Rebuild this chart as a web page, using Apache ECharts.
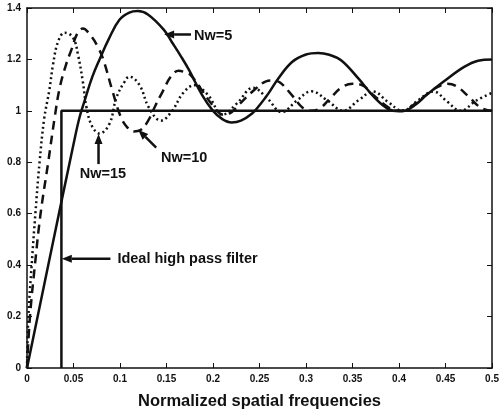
<!DOCTYPE html>
<html><head><meta charset="utf-8">
<script src="https://cdn.jsdelivr.net/npm/echarts@6/dist/echarts.min.js"></script>
<style>html,body{margin:0;padding:0;background:#fff}#c{width:502px;height:415px}</style>
</head><body><div id="c"></div>
<script>
// Normalized spatial frequency / response pairs
const nw5 = [[0,0],[0.028,0.49],[0.05,0.87],[0.0565,0.975],[0.062,1.04],[0.07,1.13],[0.078,1.2],[0.088,1.28],[0.0994,1.354],[0.11,1.382],[0.119,1.388],[0.13,1.375],[0.147,1.316],[0.156,1.266],[0.165,1.215],[0.174,1.16],[0.188,1.063],[0.2,1.0],[0.21,0.968],[0.22,0.955],[0.23,0.962],[0.242,0.99],[0.25,1.022],[0.26,1.07],[0.27,1.125],[0.285,1.19],[0.3,1.219],[0.313,1.225],[0.325,1.218],[0.338,1.196],[0.356,1.127],[0.374,1.05],[0.388,1.008],[0.4,0.998],[0.406,1.0],[0.418,1.025],[0.43,1.063],[0.448,1.114],[0.47,1.171],[0.485,1.195],[0.5,1.2]];
const nw10 = [[0,0],[0.0032,0.2],[0.0085,0.4],[0.0146,0.6],[0.0228,0.8],[0.03,0.98],[0.035,1.087],[0.042,1.18],[0.048,1.24],[0.054,1.30],[0.06,1.32],[0.069,1.29],[0.076,1.25],[0.082,1.2],[0.092,1.076],[0.101,0.975],[0.108,0.935],[0.115,0.92],[0.122,0.925],[0.13,0.96],[0.138,1.02],[0.146,1.076],[0.155,1.135],[0.163,1.156],[0.17,1.15],[0.176,1.139],[0.188,1.08],[0.2,1.02],[0.211,0.985],[0.22,0.995],[0.228,1.025],[0.244,1.08],[0.257,1.115],[0.263,1.118],[0.272,1.11],[0.285,1.06],[0.297,1.01],[0.306,1.0],[0.315,1.01],[0.325,1.045],[0.338,1.09],[0.35,1.105],[0.36,1.1],[0.373,1.06],[0.388,1.015],[0.4,1.0],[0.41,1.01],[0.425,1.05],[0.44,1.09],[0.452,1.105],[0.462,1.095],[0.475,1.055],[0.488,1.012],[0.5,1.0]];
const nw15 = [[0,0],[0.0015,0.2],[0.005,0.4],[0.009,0.6],[0.0135,0.8],[0.0185,0.97],[0.024,1.08],[0.028,1.18],[0.0335,1.27],[0.0406,1.304],[0.0495,1.285],[0.055,1.215],[0.06,1.114],[0.064,1.013],[0.07,0.94],[0.078,0.912],[0.0887,0.95],[0.096,1.05],[0.105,1.114],[0.11,1.133],[0.121,1.1],[0.131,1.013],[0.144,0.962],[0.156,1.0],[0.168,1.07],[0.18,1.1],[0.195,1.06],[0.21,0.985],[0.226,1.03],[0.243,1.09],[0.258,1.05],[0.274,0.995],[0.29,1.04],[0.306,1.076],[0.323,1.04],[0.34,1.0],[0.356,1.04],[0.372,1.075],[0.388,1.035],[0.404,1.0],[0.42,1.04],[0.437,1.075],[0.452,1.035],[0.466,1.0],[0.483,1.04],[0.5,1.07]];
const ideal = [[0.037,0],[0.037,1],[0.5,1]];
const labels = ['Nw=5','Nw=10','Nw=15','Ideal high pass filter'];
const xTitle = 'Normalized spatial frequencies';

const chart = echarts.init(document.getElementById('c'));
const C = '#111';
const axCommon = {
  axisLine:{show:true,onZero:false,lineStyle:{color:C,width:1.5}},
  axisTick:{show:true,inside:true,length:5,lineStyle:{color:C,width:1}},
  splitLine:{show:false}
};
const lbl = {color:C,fontFamily:'Liberation Sans, Arial',fontWeight:'bold',fontSize:10};
chart.setOption({
  animation:false,
  grid:{left:27,right:7,top:8,bottom:38},
  xAxis:[
    Object.assign({type:'value',min:0,max:0.5,interval:0.05,position:'bottom',
      axisLabel:Object.assign({margin:6},lbl),
      name:xTitle,nameLocation:'middle',nameGap:25,
      nameTextStyle:{color:C,fontFamily:'Liberation Sans, Arial',fontWeight:'bold',fontSize:16.5}},axCommon),
    Object.assign({type:'value',min:0,max:0.5,interval:0.05,position:'top',axisLabel:{show:false}},axCommon)
  ],
  yAxis:[
    Object.assign({type:'value',min:0,max:1.4,interval:0.2,position:'left',
      axisLabel:Object.assign({margin:6},lbl)},axCommon),
    Object.assign({type:'value',min:0,max:1.4,interval:0.2,position:'right',axisLabel:{show:false}},axCommon)
  ],
  series:[
    {type:'line',data:ideal,showSymbol:false,lineStyle:{color:C,width:2.5}},
    {type:'line',data:nw5,showSymbol:false,smooth:0.4,lineStyle:{color:C,width:2.5}},
    {type:'line',data:nw10,showSymbol:false,smooth:0.4,lineStyle:{color:C,width:2.5,type:[9,6]}},
    {type:'line',data:nw15,showSymbol:false,smooth:0.4,lineStyle:{color:C,width:2.5,type:[2,3]}}
  ]
});

// annotations anchored in data coordinates
const ann = [
  {tip:[0.1474,1.297],tail:[0.1763,1.297],text:labels[0],at:[0.1795,1.29],align:'left'},
  {tip:[0.1197,0.926],tail:[0.1389,0.857],text:labels[1],at:[0.144,0.816],align:'left'},
  {tip:[0.0769,0.91],tail:[0.0769,0.793],text:labels[2],at:[0.0817,0.755],align:'center'},
  {tip:[0.0374,0.425],tail:[0.0897,0.425],text:labels[3],at:[0.0972,0.425],align:'left'}
];
const g = [];
ann.forEach(a=>{
  const p = chart.convertToPixel({gridIndex:0},a.tip);
  const q = chart.convertToPixel({gridIndex:0},a.tail);
  const t = chart.convertToPixel({gridIndex:0},a.at);
  const dx=q[0]-p[0], dy=q[1]-p[1], L=Math.hypot(dx,dy), ux=dx/L, uy=dy/L;
  const hl=10, hw=4;
  const b=[p[0]+ux*hl,p[1]+uy*hl];
  g.push({type:'line',shape:{x1:b[0],y1:b[1],x2:q[0],y2:q[1]},style:{stroke:C,lineWidth:2.5},z:100});
  g.push({type:'polygon',shape:{points:[p,[b[0]-uy*hw,b[1]+ux*hw],[b[0]+uy*hw,b[1]-ux*hw]]},style:{fill:C},z:100});
  g.push({type:'text',x:t[0],y:t[1],style:{text:a.text,fill:C,font:'bold 14.5px "Liberation Sans", Arial',textAlign:a.align,textVerticalAlign:'middle'},z:100});
});
chart.setOption({graphic:g});
</script></body></html>
